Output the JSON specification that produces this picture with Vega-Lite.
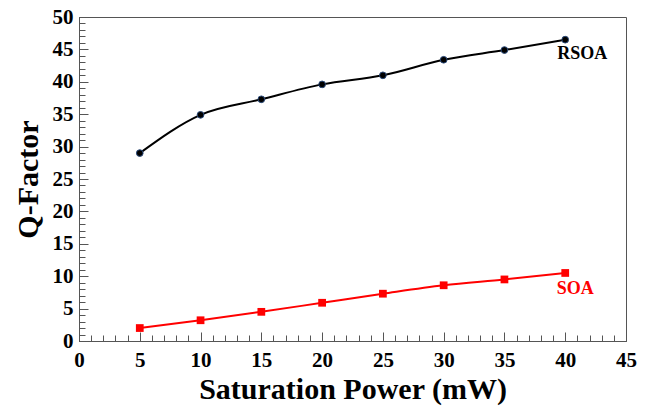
{
  "$schema": "https://vega.github.io/schema/vega-lite/v6.json",
  "width": 547,
  "height": 324,
  "autosize": {"type": "none"},
  "padding": {"left": 79, "top": 17, "right": 21, "bottom": 68},
  "config": {
    "view": {"stroke": "#555555", "strokeWidth": 1},
    "font": "Liberation Serif"
  },
  "data": {
    "values": [
      {"series": "RSOA", "power": 5, "q": 29.0},
      {"series": "RSOA", "power": 10, "q": 34.9},
      {"series": "RSOA", "power": 15, "q": 37.3},
      {"series": "RSOA", "power": 20, "q": 39.6},
      {"series": "RSOA", "power": 25, "q": 41.0},
      {"series": "RSOA", "power": 30, "q": 43.4},
      {"series": "RSOA", "power": 35, "q": 44.9},
      {"series": "RSOA", "power": 40, "q": 46.5},
      {"series": "SOA", "power": 5, "q": 2.0},
      {"series": "SOA", "power": 10, "q": 3.2},
      {"series": "SOA", "power": 15, "q": 4.5},
      {"series": "SOA", "power": 20, "q": 5.9},
      {"series": "SOA", "power": 25, "q": 7.3},
      {"series": "SOA", "power": 30, "q": 8.6},
      {"series": "SOA", "power": 35, "q": 9.5},
      {"series": "SOA", "power": 40, "q": 10.5}
    ]
  },
  "layer": [
    {
      "mark": {"type": "line", "interpolate": "monotone", "strokeWidth": 2},
      "encoding": {
        "x": {
          "field": "power", "type": "quantitative",
          "scale": {"domain": [0, 45], "nice": false, "zero": false},
          "axis": {
            "orient": "bottom",
            "values": [0, 5, 10, 15, 20, 25, 30, 35, 40, 45],
            "tickSize": -9, "tickColor": "#555555", "domainColor": "#555555",
            "labelFont": "Liberation Serif, Times New Roman, serif", "labelFontWeight": "bold", "labelFontSize": 21, "labelColor": "#000000",
            "labelPadding": 17, "labelFlush": false,
            "grid": false,
            "title": "Saturation Power (mW)", "titleFont": "Liberation Serif, Times New Roman, serif", "titleFontSize": 30, "titleFontWeight": "bold", "titleColor": "#000000", "titlePadding": 4
          }
        },
        "y": {
          "field": "q", "type": "quantitative",
          "scale": {"domain": [0, 50], "nice": false},
          "axis": {
            "orient": "left",
            "values": [0, 5, 10, 15, 20, 25, 30, 35, 40, 45, 50],
            "tickSize": -9, "tickColor": "#555555", "domainColor": "#555555",
            "labelFont": "Liberation Serif, Times New Roman, serif", "labelFontWeight": "bold", "labelFontSize": 21, "labelColor": "#000000",
            "labelPadding": 15, "labelFlush": false,
            "grid": false,
            "title": "Q-Factor", "titleFont": "Liberation Serif, Times New Roman, serif", "titleFontSize": 30, "titleFontWeight": "bold", "titleColor": "#000000", "titlePadding": 9
          }
        },
        "color": {
          "field": "series", "type": "nominal",
          "scale": {"domain": ["RSOA", "SOA"], "range": ["#000000", "#ff0000"]},
          "legend": null
        }
      }
    },
    {
      "transform": [{"filter": "datum.series === 'RSOA'"}],
      "mark": {"type": "point", "shape": "circle", "filled": true, "size": 45, "color": "#000000", "stroke": "#2a4a7a", "strokeWidth": 1, "opacity": 1},
      "encoding": {
        "x": {
          "field": "power", "type": "quantitative",
          "scale": {"domain": [0, 45], "nice": false, "zero": false},
          "axis": {
            "orient": "bottom",
            "values": [0,1,2,3,4,5,6,7,8,9,10,11,12,13,14,15,16,17,18,19,20,21,22,23,24,25,26,27,28,29,30,31,32,33,34,35,36,37,38,39,40,41,42,43,44,45],
            "tickSize": -6, "tickColor": "#555555", "domain": false, "labels": false, "grid": false, "title": null
          }
        },
        "y": {
          "field": "q", "type": "quantitative",
          "scale": {"domain": [0, 50], "nice": false},
          "axis": {
            "orient": "left",
            "values": [0,1,2,3,4,5,6,7,8,9,10,11,12,13,14,15,16,17,18,19,20,21,22,23,24,25,26,27,28,29,30,31,32,33,34,35,36,37,38,39,40,41,42,43,44,45,46,47,48,49,50],
            "tickSize": -6, "tickColor": "#555555", "domain": false, "labels": false, "grid": false, "title": null
          }
        }
      }
    },
    {
      "transform": [{"filter": "datum.series === 'SOA'"}],
      "mark": {"type": "square", "filled": true, "size": 60, "color": "#ff0000", "opacity": 1},
      "encoding": {
        "x": {"field": "power", "type": "quantitative", "axis": null},
        "y": {"field": "q", "type": "quantitative", "axis": null}
      }
    },
    {
      "transform": [{"filter": "datum.power === 40 && datum.series === 'RSOA'"}],
      "mark": {"type": "text", "font": "Liberation Serif, Times New Roman, serif", "fontWeight": "bold", "fontSize": 18, "align": "center", "baseline": "middle", "dx": 17, "dy": 14, "color": "#000000"},
      "encoding": {
        "x": {"field": "power", "type": "quantitative", "axis": null},
        "y": {"field": "q", "type": "quantitative", "axis": null},
        "text": {"field": "series"}
      }
    },
    {
      "transform": [{"filter": "datum.power === 40 && datum.series === 'SOA'"}],
      "mark": {"type": "text", "font": "Liberation Serif, Times New Roman, serif", "fontWeight": "bold", "fontSize": 18, "align": "center", "baseline": "middle", "dx": 10, "dy": 16, "color": "#ff0000"},
      "encoding": {
        "x": {"field": "power", "type": "quantitative", "axis": null},
        "y": {"field": "q", "type": "quantitative", "axis": null},
        "text": {"field": "series"}
      }
    }
  ],
  "resolve": {"axis": {"x": "independent", "y": "independent"}}
}
